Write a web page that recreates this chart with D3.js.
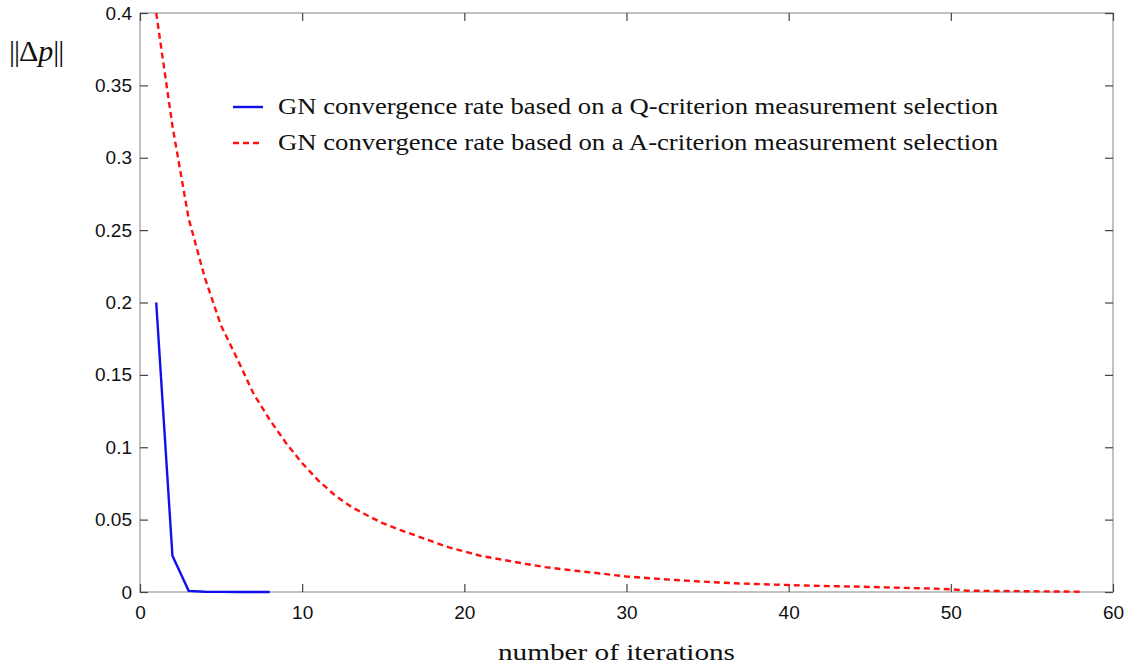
<!DOCTYPE html>
<html><head><meta charset="utf-8">
<script src="https://cdn.jsdelivr.net/npm/d3@7"></script>
<style>body{margin:0;background:#fff}</style>
</head><body>
<svg id="chart" width="1137" height="668"></svg>
<script>
const xTicks = [0,10,20,30,40,50,60];
const yTicks = [0,0.05,0.1,0.15,0.2,0.25,0.3,0.35,0.4];
const blueIter = [1,2,3,4,5,6,7,8];
const blueVals = [0.200,0.025,0.0008,0.0002,0.0001,0,0,0];
const redIter = d3.range(1,59);
const redVals = [0.400,0.322,0.258,0.217,0.184,0.161,0.137,0.119,0.103,0.089,
 0.077,0.067,0.059,0.053,0.0474,0.043,0.039,0.035,0.031,0.028,
 0.025,0.023,0.021,0.019,0.0172,0.0158,0.0145,0.0133,0.0120,0.0107,
 0.0099,0.0091,0.0083,0.0076,0.0070,0.0064,0.0059,0.0055,0.0051,0.0048,
 0.0045,0.0042,0.0040,0.0038,0.0035,0.0032,0.0029,0.0026,0.0023,0.0019,
 0.0009,0.0008,0.0007,0.0006,0.0005,0.0004,0.0003,0.0002];
const legendLabels = ["GN convergence rate based on a Q-criterion measurement selection",
 "GN convergence rate based on a A-criterion measurement selection"];
const xTitle = "number of iterations";

const svg = d3.select("#chart");
const L=140, R=1113, T=13, B=592;
const x = d3.scaleLinear().domain([0,60]).range([L,R]);
const y = d3.scaleLinear().domain([0,0.4]).range([B,T]);
const sans = "Liberation Sans, Arial, sans-serif";
const serif = "Liberation Serif, Times New Roman, serif";

// frame
svg.append("rect").attr("x",L).attr("y",T).attr("width",R-L).attr("height",B-T)
  .attr("fill","none").attr("stroke","#9a9a9a").attr("stroke-width",1.2);

// axes
const fmt = d => d===0 ? "0" : String(d);
const yAxis = svg.append("g").attr("transform",`translate(${L},0)`)
  .call(d3.axisLeft(y).tickValues(yTicks).tickFormat(fmt).tickSizeInner(-8).tickSizeOuter(0).tickPadding(8));
const yAxisR = svg.append("g").attr("transform",`translate(${R},0)`)
  .call(d3.axisRight(y).tickValues(yTicks).tickFormat("").tickSizeInner(-8).tickSizeOuter(0));
const xAxis = svg.append("g").attr("transform",`translate(0,${B})`)
  .call(d3.axisBottom(x).tickValues(xTicks).tickFormat(d=>String(d)).tickSizeInner(-8).tickSizeOuter(0).tickPadding(14));
const xAxisT = svg.append("g").attr("transform",`translate(0,${T})`)
  .call(d3.axisTop(x).tickValues(xTicks).tickFormat("").tickSizeInner(-8).tickSizeOuter(0));
[yAxis,yAxisR,xAxis,xAxisT].forEach(g=>{
  g.select(".domain").remove();
  g.selectAll(".tick line").attr("stroke","#444").attr("stroke-width",1.2);
  g.selectAll("text").attr("font-family",sans).attr("font-size",19).attr("fill","#111");
});

// lines
const line = d3.line().x(d=>x(d[0])).y(d=>y(d[1]));
svg.append("path").datum(redIter.map((d,i)=>[d,redVals[i]]))
  .attr("d",line).attr("fill","none").attr("stroke","#ff1010").attr("stroke-width",2.4)
  .attr("stroke-dasharray","6,4");
svg.append("path").datum(blueIter.map((d,i)=>[d,blueVals[i]]))
  .attr("d",line).attr("fill","none").attr("stroke","#1010ee").attr("stroke-width",2.4);

// legend
const leg = svg.append("g");
const colors = ["#1010ee","#ff1010"], dashes=[null,"6,4"];
legendLabels.forEach((t,i)=>{
  const yy = 107 + i*36;
  leg.append("line").attr("x1",233).attr("x2",263).attr("y1",yy).attr("y2",yy)
    .attr("stroke",colors[i]).attr("stroke-width",2.4).attr("stroke-dasharray",dashes[i]);
  leg.append("text").attr("x",278).attr("y",yy+7).text(t)
    .attr("font-family",serif).attr("font-size",23).attr("fill","#111")
    .attr("textLength",720).attr("lengthAdjust","spacingAndGlyphs");
});

// x title
svg.append("text").attr("x",498).attr("y",660).text(xTitle)
  .attr("font-family",serif).attr("font-size",24).attr("fill","#111")
  .attr("textLength",237).attr("lengthAdjust","spacingAndGlyphs");

// y title
const yt = svg.append("text").attr("x",9).attr("y",61)
  .attr("font-family",serif).attr("font-size",30).attr("fill","#111");
yt.append("tspan").text("||").attr("letter-spacing","-1");
yt.append("tspan").text("\u0394");
yt.append("tspan").text("p").attr("font-style","italic");
yt.append("tspan").text("||").attr("letter-spacing","-1");
</script>
</body></html>
